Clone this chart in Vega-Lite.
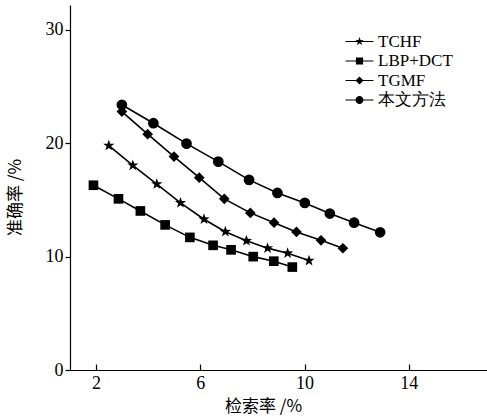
{
  "$schema": "https://vega.github.io/schema/vega-lite/v6.json",
  "width": 417,
  "height": 365,
  "autosize": "none",
  "padding": {"left": 70, "top": 5, "right": 0, "bottom": 48},
  "background": "white",
  "config": {
    "view": {"stroke": null},
    "font": "Liberation Serif",
    "axis": {"domainColor": "black", "domainWidth": 1.2, "tickColor": "black", "tickWidth": 1.2, "labelColor": "black", "titleColor": "black", "grid": false, "labelFont": "Liberation Serif", "labelFontSize": 18, "titleFont": "Noto Sans CJK SC", "titleFontSize": 17, "titleFontWeight": "normal"}
  },
  "data": {"values": [
    {"method": "TCHF", "x": 2.49, "y": 19.8},
    {"method": "TCHF", "x": 3.41, "y": 18.05},
    {"method": "TCHF", "x": 4.33, "y": 16.4},
    {"method": "TCHF", "x": 5.24, "y": 14.75},
    {"method": "TCHF", "x": 6.14, "y": 13.3},
    {"method": "TCHF", "x": 6.96, "y": 12.2},
    {"method": "TCHF", "x": 7.77, "y": 11.4},
    {"method": "TCHF", "x": 8.58, "y": 10.75},
    {"method": "TCHF", "x": 9.35, "y": 10.3},
    {"method": "TCHF", "x": 10.17, "y": 9.65},
    {"method": "LBP+DCT", "x": 1.9, "y": 16.3},
    {"method": "LBP+DCT", "x": 2.86, "y": 15.1},
    {"method": "LBP+DCT", "x": 3.7, "y": 14.03},
    {"method": "LBP+DCT", "x": 4.65, "y": 12.8},
    {"method": "LBP+DCT", "x": 5.6, "y": 11.7},
    {"method": "LBP+DCT", "x": 6.49, "y": 11.0},
    {"method": "LBP+DCT", "x": 7.18, "y": 10.6},
    {"method": "LBP+DCT", "x": 8.03, "y": 10.0},
    {"method": "LBP+DCT", "x": 8.82, "y": 9.6},
    {"method": "LBP+DCT", "x": 9.53, "y": 9.08},
    {"method": "TGMF", "x": 2.99, "y": 22.8},
    {"method": "TGMF", "x": 3.98, "y": 20.8},
    {"method": "TGMF", "x": 4.99, "y": 18.83},
    {"method": "TGMF", "x": 5.96, "y": 16.97},
    {"method": "TGMF", "x": 6.92, "y": 15.1},
    {"method": "TGMF", "x": 7.92, "y": 13.86},
    {"method": "TGMF", "x": 8.83, "y": 13.0},
    {"method": "TGMF", "x": 9.69, "y": 12.18},
    {"method": "TGMF", "x": 10.63, "y": 11.44},
    {"method": "TGMF", "x": 11.47, "y": 10.74},
    {"method": "本文方法", "x": 2.99, "y": 23.4},
    {"method": "本文方法", "x": 4.2, "y": 21.77},
    {"method": "本文方法", "x": 5.47, "y": 19.97},
    {"method": "本文方法", "x": 6.69, "y": 18.38},
    {"method": "本文方法", "x": 7.87, "y": 16.77},
    {"method": "本文方法", "x": 8.96, "y": 15.62},
    {"method": "本文方法", "x": 10.01, "y": 14.74},
    {"method": "本文方法", "x": 10.97, "y": 13.8},
    {"method": "本文方法", "x": 11.9, "y": 13.0},
    {"method": "本文方法", "x": 12.9, "y": 12.15}
  ]},
  "encoding": {
    "x": {"field": "x", "type": "quantitative", "scale": {"domain": [1, 17], "nice": false, "zero": false},
      "axis": {"values": [2, 6, 10, 14], "tickSize": -6, "labelPadding": 10, "title": "检索率 /%", "titleX": 193, "titleY": 41, "titleBaseline": "alphabetic", "titleAnchor": "middle", "titleAlign": "center"}},
    "y": {"field": "y", "type": "quantitative", "scale": {"domain": [0, 32.2], "nice": false},
      "axis": {"values": [0, 10, 20, 30], "tickSize": 5, "labelPadding": 2, "title": "准确率 /%", "titleX": -55, "titleY": 192, "titleAngle": -90, "titleAlign": "center", "titleBaseline": "middle"}}
  },
  "resolve": {"scale": {"shape": "independent"}},
  "layer": [
    {
      "mark": {"type": "line", "color": "black", "strokeWidth": 1.6},
      "encoding": {"detail": {"field": "method"}}
    },
    {
      "mark": {"type": "point", "filled": true, "color": "black", "opacity": 1, "size": 115},
      "encoding": {
        "shape": {"field": "method", "type": "nominal",
          "scale": {"domain": ["TCHF", "LBP+DCT", "TGMF", "本文方法"],
            "range": ["M0,-1.1L0.259,-0.356L1.046,-0.34L0.418,0.136L0.647,0.89L0,0.44L-0.647,0.89L-0.418,0.136L-1.046,-0.34L-0.259,-0.356Z", "M-0.9,-0.9H0.9V0.9H-0.9Z", "diamond", "circle"]},
          "legend": null}
      }
    },
    {
      "mark": {"type": "point", "filled": true, "color": "black", "opacity": 0, "size": 64},
      "encoding": {
        "shape": {"field": "method", "type": "nominal",
          "scale": {"domain": ["TCHF", "LBP+DCT", "TGMF", "本文方法"],
            "range": ["M-3.5,-0.13H3.5V0.13H-3.5Z M0,-1.1L0.259,-0.356L1.046,-0.34L0.418,0.136L0.647,0.89L0,0.44L-0.647,0.89L-0.418,0.136L-1.046,-0.34L-0.259,-0.356Z", "M-3.5,-0.13H3.5V0.13H-3.5Z M-0.9,-0.9H0.9V0.9H-0.9Z", "M-3.5,-0.13H3.5V0.13H-3.5Z M-1,0L0,-1L1,0L0,1Z", "M-3.5,-0.13H3.5V0.13H-3.5Z M1,0A1,1 0 1,1 -1,0A1,1 0 1,1 1,0Z"]},
          "legend": {"title": null, "orient": "none", "legendX": 281, "legendY": 28, "labelFont": "Liberation Serif", "labelFontSize": 17, "labelColor": "black", "labelOffset": 10, "rowPadding": 1.5, "symbolSize": 64, "symbolFillColor": "black", "symbolStrokeWidth": 0, "symbolOpacity": 1}
        }
      }
    }
  ]
}
